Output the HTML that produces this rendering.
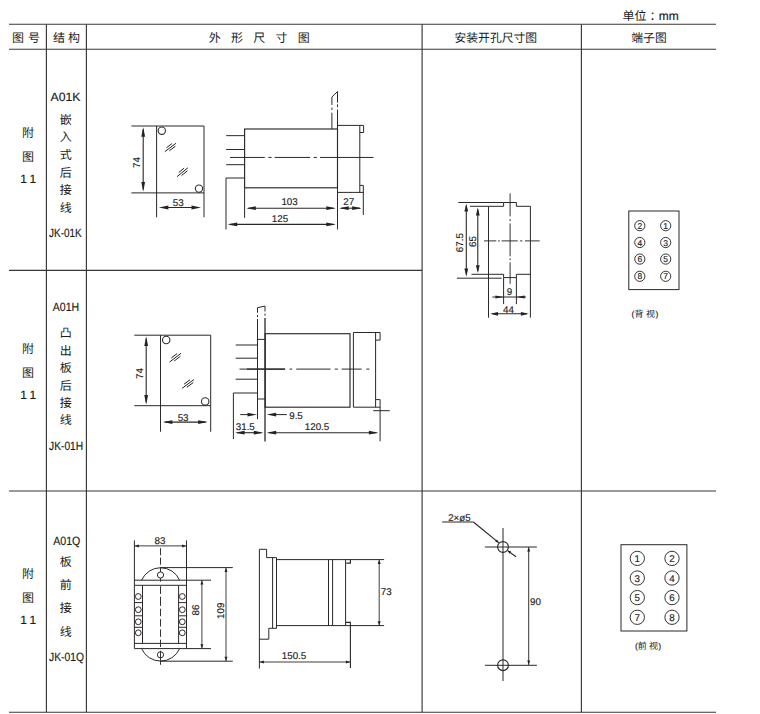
<!DOCTYPE html>
<html lang="zh"><head><meta charset="utf-8"><title>外形及安装尺寸图</title>
<style>
html,body{margin:0;padding:0;background:#fff;}
body{width:760px;height:714px;overflow:hidden;font-family:"Liberation Sans","Noto Sans CJK SC",sans-serif;}
svg{display:block;position:absolute;left:0;top:0;}
svg text{font-family:"Liberation Sans","Noto Sans CJK SC",sans-serif;text-rendering:geometricPrecision;}
</style></head><body>
<svg width="760" height="714" viewBox="0 0 760 714">
<rect x="0" y="0" width="760" height="714" fill="#fff"/>
<line x1="9" y1="24.2" x2="716" y2="24.2" stroke="#3a3635" stroke-width="1.15" />
<line x1="9" y1="49.2" x2="716" y2="49.2" stroke="#3a3635" stroke-width="1.15" />
<line x1="9" y1="270.3" x2="422.1" y2="270.3" stroke="#3a3635" stroke-width="1.15" />
<line x1="9" y1="491" x2="716" y2="491" stroke="#3a3635" stroke-width="1.15" />
<line x1="9" y1="712.2" x2="716" y2="712.2" stroke="#3a3635" stroke-width="1.15" />
<line x1="46.4" y1="24.2" x2="46.4" y2="712.2" stroke="#3a3635" stroke-width="1.15" />
<line x1="86.4" y1="24.2" x2="86.4" y2="712.2" stroke="#3a3635" stroke-width="1.15" />
<line x1="422.1" y1="24.2" x2="422.1" y2="712.2" stroke="#3a3635" stroke-width="1.15" />
<line x1="581.4" y1="24.2" x2="581.4" y2="712.2" stroke="#3a3635" stroke-width="1.15" />
<text x="18.1" y="42.26" font-size="12" text-anchor="middle" fill="#1c1c1c">图</text>
<text x="33.9" y="42.26" font-size="12" text-anchor="middle" fill="#1c1c1c">号</text>
<text x="58.9" y="42.26" font-size="12" text-anchor="middle" fill="#1c1c1c">结</text>
<text x="73.9" y="42.26" font-size="12" text-anchor="middle" fill="#1c1c1c">构</text>
<text x="214.7" y="42.26" font-size="12" text-anchor="middle" fill="#1c1c1c">外</text>
<text x="236.95" y="42.26" font-size="12" text-anchor="middle" fill="#1c1c1c">形</text>
<text x="259.2" y="42.26" font-size="12" text-anchor="middle" fill="#1c1c1c">尺</text>
<text x="281.45" y="42.26" font-size="12" text-anchor="middle" fill="#1c1c1c">寸</text>
<text x="303.7" y="42.26" font-size="12" text-anchor="middle" fill="#1c1c1c">图</text>
<text x="460.4" y="42.184" font-size="11.8" text-anchor="middle" fill="#1c1c1c">安</text>
<text x="472.2" y="42.184" font-size="11.8" text-anchor="middle" fill="#1c1c1c">装</text>
<text x="484" y="42.184" font-size="11.8" text-anchor="middle" fill="#1c1c1c">开</text>
<text x="495.8" y="42.184" font-size="11.8" text-anchor="middle" fill="#1c1c1c">孔</text>
<text x="507.6" y="42.184" font-size="11.8" text-anchor="middle" fill="#1c1c1c">尺</text>
<text x="519.4" y="42.184" font-size="11.8" text-anchor="middle" fill="#1c1c1c">寸</text>
<text x="531.2" y="42.184" font-size="11.8" text-anchor="middle" fill="#1c1c1c">图</text>
<text x="637.2" y="41.584" font-size="11.8" text-anchor="middle" fill="#1c1c1c">端</text>
<text x="649" y="41.584" font-size="11.8" text-anchor="middle" fill="#1c1c1c">子</text>
<text x="660.8" y="41.584" font-size="11.8" text-anchor="middle" fill="#1c1c1c">图</text>
<text x="628.55" y="20.36" font-size="12" text-anchor="middle" fill="#1c1c1c">单</text>
<text x="640.55" y="20.36" font-size="12" text-anchor="middle" fill="#1c1c1c">位</text>
<text x="649.55" y="20.36" font-size="12" text-anchor="start" fill="#1c1c1c">：</text>
<text x="658.8" y="20" font-size="12" text-anchor="start" fill="#1c1c1c" stroke="#1c1c1c" stroke-width="0.18" >mm</text>
<text x="28.1" y="136.71" font-size="12" text-anchor="middle" fill="#1c1c1c">附</text>
<text x="28.1" y="160.86" font-size="12" text-anchor="middle" fill="#1c1c1c">图</text>
<text x="29.85" y="182.65" font-size="12" text-anchor="middle" fill="#1c1c1c" stroke="#1c1c1c" stroke-width="0.18" letter-spacing="3.3" >11</text>
<text x="28.1" y="352.56" font-size="12" text-anchor="middle" fill="#1c1c1c">附</text>
<text x="28.1" y="376.76" font-size="12" text-anchor="middle" fill="#1c1c1c">图</text>
<text x="29.85" y="398.85" font-size="12" text-anchor="middle" fill="#1c1c1c" stroke="#1c1c1c" stroke-width="0.18" letter-spacing="3.3" >11</text>
<text x="28.1" y="578.26" font-size="12" text-anchor="middle" fill="#1c1c1c">附</text>
<text x="28.1" y="601.56" font-size="12" text-anchor="middle" fill="#1c1c1c">图</text>
<text x="29.85" y="624.05" font-size="12" text-anchor="middle" fill="#1c1c1c" stroke="#1c1c1c" stroke-width="0.18" letter-spacing="3.3" >11</text>
<text x="65.5" y="100.9" font-size="12" text-anchor="middle" fill="#1c1c1c" stroke="#1c1c1c" stroke-width="0.18" textLength="30" lengthAdjust="spacingAndGlyphs" >A01K</text>
<text x="65.7" y="123.86" font-size="12" text-anchor="middle" fill="#1c1c1c">嵌</text>
<text x="65.7" y="141.46" font-size="12" text-anchor="middle" fill="#1c1c1c">入</text>
<text x="65.7" y="159.06" font-size="12" text-anchor="middle" fill="#1c1c1c">式</text>
<text x="65.7" y="176.66" font-size="12" text-anchor="middle" fill="#1c1c1c">后</text>
<text x="65.7" y="194.26" font-size="12" text-anchor="middle" fill="#1c1c1c">接</text>
<text x="65.7" y="211.86" font-size="12" text-anchor="middle" fill="#1c1c1c">线</text>
<text x="65.4" y="236.7" font-size="12" text-anchor="middle" fill="#1c1c1c" stroke="#1c1c1c" stroke-width="0.18" textLength="32.8" lengthAdjust="spacingAndGlyphs" >JK-01K</text>
<text x="66" y="310.8" font-size="12" text-anchor="middle" fill="#1c1c1c" stroke="#1c1c1c" stroke-width="0.18" textLength="26.3" lengthAdjust="spacingAndGlyphs" >A01H</text>
<text x="65.7" y="337.16" font-size="12" text-anchor="middle" fill="#1c1c1c">凸</text>
<text x="65.7" y="354.61" font-size="12" text-anchor="middle" fill="#1c1c1c">出</text>
<text x="65.7" y="372.06" font-size="12" text-anchor="middle" fill="#1c1c1c">板</text>
<text x="65.7" y="389.51" font-size="12" text-anchor="middle" fill="#1c1c1c">后</text>
<text x="65.7" y="406.96" font-size="12" text-anchor="middle" fill="#1c1c1c">接</text>
<text x="65.7" y="424.41" font-size="12" text-anchor="middle" fill="#1c1c1c">线</text>
<text x="66.1" y="450" font-size="12" text-anchor="middle" fill="#1c1c1c" stroke="#1c1c1c" stroke-width="0.18" textLength="34" lengthAdjust="spacingAndGlyphs" >JK-01H</text>
<text x="66.8" y="544.5" font-size="12" text-anchor="middle" fill="#1c1c1c" stroke="#1c1c1c" stroke-width="0.18" textLength="27.2" lengthAdjust="spacingAndGlyphs" >A01Q</text>
<text x="65.7" y="565.56" font-size="12" text-anchor="middle" fill="#1c1c1c">板</text>
<text x="65.7" y="588.91" font-size="12" text-anchor="middle" fill="#1c1c1c">前</text>
<text x="65.7" y="612.26" font-size="12" text-anchor="middle" fill="#1c1c1c">接</text>
<text x="65.7" y="635.61" font-size="12" text-anchor="middle" fill="#1c1c1c">线</text>
<text x="66.5" y="660.9" font-size="12" text-anchor="middle" fill="#1c1c1c" stroke="#1c1c1c" stroke-width="0.18" textLength="35" lengthAdjust="spacingAndGlyphs" >JK-01Q</text>
<line x1="131.4" y1="126" x2="204" y2="126" stroke="#2b2827" stroke-width="1" />
<line x1="131.4" y1="192.9" x2="204" y2="192.9" stroke="#2b2827" stroke-width="1" />
<line x1="156.6" y1="126" x2="156.6" y2="217.3" stroke="#2b2827" stroke-width="1" />
<line x1="204" y1="126" x2="204" y2="217.3" stroke="#2b2827" stroke-width="1" />
<circle cx="161.8" cy="130.7" r="3.65" fill="none" stroke="#2e2e2e" stroke-width="1.1"/>
<circle cx="199" cy="188.6" r="3.65" fill="none" stroke="#2e2e2e" stroke-width="1.1"/>
<line x1="164.8" y1="151.7" x2="175.9" y2="143.3" stroke="#222" stroke-width="1" />
<line x1="166.537" y1="147.689" x2="172.087" y2="143.489" stroke="#222" stroke-width="1" />
<line x1="169.361" y1="150.757" x2="175.35" y2="146.224" stroke="#222" stroke-width="1" />
<line x1="177.06" y1="176.67" x2="187.9" y2="167.8" stroke="#222" stroke-width="1" />
<line x1="178.662" y1="172.581" x2="184.082" y2="168.146" stroke="#222" stroke-width="1" />
<line x1="181.602" y1="175.538" x2="187.451" y2="170.752" stroke="#222" stroke-width="1" />
<line x1="143.2" y1="129.3" x2="143.2" y2="189.6" stroke="#2b2827" stroke-width="1.1" />
<polygon points="143.20,127.30 145.10,136.80 141.30,136.80" fill="#222"/>
<polygon points="143.20,191.60 141.30,182.10 145.10,182.10" fill="#222"/>
<text x="140.3" y="162.6" font-size="9.8" text-anchor="middle" fill="#1c1c1c" stroke="#1c1c1c" stroke-width="0.15" transform="rotate(-90 140.3 162.6)" >74</text>
<line x1="160.9" y1="207.5" x2="199" y2="207.5" stroke="#2b2827" stroke-width="1.1" />
<polygon points="158.90,207.50 168.40,205.60 168.40,209.40" fill="#222"/>
<polygon points="201.00,207.50 191.50,209.40 191.50,205.60" fill="#222"/>
<text x="178.3" y="205.9" font-size="9.8" text-anchor="middle" fill="#1c1c1c" stroke="#1c1c1c" stroke-width="0.15" >53</text>
<rect x="244.6" y="129" width="92.9" height="58.8" fill="none" stroke="#2b2827" stroke-width="1.15"/>
<line x1="244.6" y1="187.8" x2="244.6" y2="217.8" stroke="#2b2827" stroke-width="1" />
<line x1="226.2" y1="135.65" x2="244.6" y2="135.65" stroke="#2b2827" stroke-width="1" />
<line x1="226.2" y1="149.5" x2="244.6" y2="149.5" stroke="#2b2827" stroke-width="1" />
<line x1="226.2" y1="164.7" x2="244.6" y2="164.7" stroke="#2b2827" stroke-width="1" />
<polyline points="244.6,178 226,178 226,229.5" fill="none" stroke="#2b2827" stroke-width="1" />
<line x1="230.1" y1="157.45" x2="373.5" y2="157.45" stroke="#2b2827" stroke-width="1" stroke-dasharray="34.7 3.6 3.2 3.1 35.4 3.6 3.1 3.2 60"/>
<line x1="337.5" y1="91.5" x2="337.5" y2="102.6" stroke="#2b2827" stroke-width="1" />
<line x1="337.5" y1="104.4" x2="337.5" y2="107.2" stroke="#2b2827" stroke-width="1" />
<line x1="337.5" y1="109.5" x2="337.5" y2="229.5" stroke="#2b2827" stroke-width="1" />
<line x1="331.9" y1="97" x2="337.5" y2="91.5" stroke="#2b2827" stroke-width="1" />
<line x1="331.9" y1="97" x2="331.9" y2="105" stroke="#2b2827" stroke-width="1" />
<line x1="331.9" y1="107.6" x2="331.9" y2="109.9" stroke="#2b2827" stroke-width="1" />
<line x1="331.9" y1="112.7" x2="331.9" y2="129" stroke="#2b2827" stroke-width="1" />
<polyline points="337.5,125.4 363.6,125.4 363.6,132.5 359.8,132.5" fill="none" stroke="#2b2827" stroke-width="1" />
<line x1="359.8" y1="125.4" x2="359.8" y2="192.4" stroke="#2b2827" stroke-width="1" />
<line x1="337.5" y1="192.4" x2="363.3" y2="192.4" stroke="#2b2827" stroke-width="1" />
<polyline points="359.8,185.4 363.3,185.4 363.3,215" fill="none" stroke="#2b2827" stroke-width="1" />
<line x1="248.3" y1="208.2" x2="333.8" y2="208.2" stroke="#2b2827" stroke-width="1.1" />
<polygon points="246.30,208.20 255.80,206.30 255.80,210.10" fill="#222"/>
<polygon points="335.80,208.20 326.30,210.10 326.30,206.30" fill="#222"/>
<text x="289.6" y="205" font-size="9.8" text-anchor="middle" fill="#1c1c1c" stroke="#1c1c1c" stroke-width="0.15" >103</text>
<line x1="341" y1="208.2" x2="360" y2="208.2" stroke="#2b2827" stroke-width="1.1" />
<polygon points="339.20,208.20 348.70,206.30 348.70,210.10" fill="#222"/>
<polygon points="361.70,208.20 352.20,210.10 352.20,206.30" fill="#222"/>
<text x="348.8" y="205" font-size="9.8" text-anchor="middle" fill="#1c1c1c" stroke="#1c1c1c" stroke-width="0.15" >27</text>
<line x1="229.7" y1="224.4" x2="333.8" y2="224.4" stroke="#2b2827" stroke-width="1.1" />
<polygon points="227.70,224.40 237.20,222.50 237.20,226.30" fill="#222"/>
<polygon points="335.80,224.40 326.30,226.30 326.30,222.50" fill="#222"/>
<text x="280" y="222.2" font-size="9.8" text-anchor="middle" fill="#1c1c1c" stroke="#1c1c1c" stroke-width="0.15" >125</text>
<polyline points="488.5,317.7 488.5,206.3 503.6,206.3 503.6,202.5 516.4,202.5 516.4,206.3 530.4,206.3 530.4,317.7" fill="none" stroke="#2b2827" stroke-width="1" />
<polyline points="488.5,274.3 503.6,274.3 503.6,277.6 516.4,277.6 516.4,274.3 530.4,274.3" fill="none" stroke="#2b2827" stroke-width="1" />
<line x1="503.6" y1="277.6" x2="503.6" y2="304.1" stroke="#2b2827" stroke-width="1" />
<line x1="516.4" y1="277.6" x2="516.4" y2="304.1" stroke="#2b2827" stroke-width="1" />
<line x1="458.3" y1="202.5" x2="503.6" y2="202.5" stroke="#2b2827" stroke-width="1" />
<line x1="470" y1="206.3" x2="488.5" y2="206.3" stroke="#2b2827" stroke-width="1" />
<line x1="471.5" y1="274.3" x2="488.5" y2="274.3" stroke="#2b2827" stroke-width="1" />
<line x1="456.8" y1="278.2" x2="501.6" y2="278.2" stroke="#2b2827" stroke-width="1" />
<line x1="510.1" y1="193.4" x2="510.1" y2="283.8" stroke="#2b2827" stroke-width="0.95" stroke-dasharray="22.9 2.8 2 2.3 32.9 2 1.8 2.2 40"/>
<line x1="484" y1="240.9" x2="539.7" y2="240.9" stroke="#2b2827" stroke-width="0.95" stroke-dasharray="12.3 1.7 1.7 1.9 16.1 2.4 2.2 2.6 40"/>
<line x1="466.3" y1="205.8" x2="466.3" y2="274.4" stroke="#2b2827" stroke-width="1.1" />
<polygon points="466.30,203.80 468.20,211.60 464.40,211.60" fill="#222"/>
<polygon points="466.30,276.40 464.40,268.60 468.20,268.60" fill="#222"/>
<text x="462.8" y="242.6" font-size="9.8" text-anchor="middle" fill="#1c1c1c" stroke="#1c1c1c" stroke-width="0.15" transform="rotate(-90 462.8 242.6)" >67.5</text>
<line x1="477.8" y1="209.6" x2="477.8" y2="271" stroke="#2b2827" stroke-width="1.1" />
<polygon points="477.80,207.60 479.70,215.40 475.90,215.40" fill="#222"/>
<polygon points="477.80,273.00 475.90,265.20 479.70,265.20" fill="#222"/>
<text x="475.8" y="241.6" font-size="9.8" text-anchor="middle" fill="#1c1c1c" stroke="#1c1c1c" stroke-width="0.15" transform="rotate(-90 475.8 241.6)" >65</text>
<line x1="492.3" y1="297" x2="526" y2="297" stroke="#2b2827" stroke-width="1" />
<polygon points="503.40,297.00 495.40,298.60 495.40,295.40" fill="#222"/>
<polygon points="516.60,297.00 524.60,295.40 524.60,298.60" fill="#222"/>
<text x="509.4" y="294.9" font-size="9.8" text-anchor="middle" fill="#1c1c1c" stroke="#1c1c1c" stroke-width="0.15" >9</text>
<line x1="492.2" y1="313.8" x2="526.7" y2="313.8" stroke="#2b2827" stroke-width="1.1" />
<polygon points="490.20,313.80 498.00,311.90 498.00,315.70" fill="#222"/>
<polygon points="528.70,313.80 520.90,315.70 520.90,311.90" fill="#222"/>
<text x="508.4" y="312.9" font-size="9.8" text-anchor="middle" fill="#1c1c1c" stroke="#1c1c1c" stroke-width="0.15" >44</text>
<rect x="628.8" y="211" width="50.2" height="78.6" fill="none" stroke="#2b2827" stroke-width="1"/>
<circle cx="639.8" cy="225.7" r="5.1" fill="none" stroke="#2a2a2a" stroke-width="0.95"/>
<text x="639.8" y="228.76" font-size="8.5" text-anchor="middle" fill="#1c1c1c" stroke="#1c1c1c" stroke-width="0.15" >2</text>
<circle cx="665.7" cy="225.7" r="5.1" fill="none" stroke="#2a2a2a" stroke-width="0.95"/>
<text x="665.7" y="228.76" font-size="8.5" text-anchor="middle" fill="#1c1c1c" stroke="#1c1c1c" stroke-width="0.15" >1</text>
<circle cx="639.8" cy="242.5" r="5.1" fill="none" stroke="#2a2a2a" stroke-width="0.95"/>
<text x="639.8" y="245.56" font-size="8.5" text-anchor="middle" fill="#1c1c1c" stroke="#1c1c1c" stroke-width="0.15" >4</text>
<circle cx="665.7" cy="242.5" r="5.1" fill="none" stroke="#2a2a2a" stroke-width="0.95"/>
<text x="665.7" y="245.56" font-size="8.5" text-anchor="middle" fill="#1c1c1c" stroke="#1c1c1c" stroke-width="0.15" >3</text>
<circle cx="639.8" cy="259.1" r="5.1" fill="none" stroke="#2a2a2a" stroke-width="0.95"/>
<text x="639.8" y="262.16" font-size="8.5" text-anchor="middle" fill="#1c1c1c" stroke="#1c1c1c" stroke-width="0.15" >6</text>
<circle cx="665.7" cy="259.1" r="5.1" fill="none" stroke="#2a2a2a" stroke-width="0.95"/>
<text x="665.7" y="262.16" font-size="8.5" text-anchor="middle" fill="#1c1c1c" stroke="#1c1c1c" stroke-width="0.15" >5</text>
<circle cx="639.8" cy="276.3" r="5.1" fill="none" stroke="#2a2a2a" stroke-width="0.95"/>
<text x="639.8" y="279.36" font-size="8.5" text-anchor="middle" fill="#1c1c1c" stroke="#1c1c1c" stroke-width="0.15" >8</text>
<circle cx="665.7" cy="276.3" r="5.1" fill="none" stroke="#2a2a2a" stroke-width="0.95"/>
<text x="665.7" y="279.36" font-size="8.5" text-anchor="middle" fill="#1c1c1c" stroke="#1c1c1c" stroke-width="0.15" >7</text>
<text x="631.5" y="317.2" font-size="8.6" text-anchor="start" fill="#1c1c1c" stroke="#1c1c1c" stroke-width="0.15" >(</text>
<text x="639" y="317.42" font-size="9" text-anchor="middle" fill="#1c1c1c">背</text>
<text x="650.5" y="317.42" font-size="9" text-anchor="middle" fill="#1c1c1c">视</text>
<text x="655.6" y="317.2" font-size="8.6" text-anchor="start" fill="#1c1c1c" stroke="#1c1c1c" stroke-width="0.15" >)</text>
<line x1="134.3" y1="335.2" x2="210.7" y2="335.2" stroke="#2b2827" stroke-width="1" />
<line x1="134.3" y1="405.7" x2="210.7" y2="405.7" stroke="#2b2827" stroke-width="1" />
<line x1="160.5" y1="335.2" x2="160.5" y2="431.7" stroke="#2b2827" stroke-width="1" />
<line x1="210.7" y1="335.2" x2="210.7" y2="431.7" stroke="#2b2827" stroke-width="1" />
<circle cx="166.2" cy="340" r="3.7" fill="none" stroke="#2e2e2e" stroke-width="1.1"/>
<circle cx="205.2" cy="401.4" r="3.7" fill="none" stroke="#2e2e2e" stroke-width="1.1"/>
<line x1="169.5" y1="362.1" x2="181" y2="353.3" stroke="#222" stroke-width="1" />
<line x1="171.337" y1="357.987" x2="177.087" y2="353.587" stroke="#222" stroke-width="1" />
<line x1="174.19" y1="361.029" x2="180.395" y2="356.281" stroke="#222" stroke-width="1" />
<line x1="182.1" y1="388.3" x2="194" y2="379.5" stroke="#222" stroke-width="1" />
<line x1="184.075" y1="384.166" x2="190.025" y2="379.766" stroke="#222" stroke-width="1" />
<line x1="186.885" y1="387.249" x2="193.306" y2="382.501" stroke="#222" stroke-width="1" />
<line x1="146.2" y1="338.5" x2="146.2" y2="402.4" stroke="#2b2827" stroke-width="1.1" />
<polygon points="146.20,336.50 148.10,346.00 144.30,346.00" fill="#222"/>
<polygon points="146.20,404.40 144.30,394.90 148.10,394.90" fill="#222"/>
<text x="143.4" y="373.6" font-size="9.8" text-anchor="middle" fill="#1c1c1c" stroke="#1c1c1c" stroke-width="0.15" transform="rotate(-90 143.4 373.6)" >74</text>
<line x1="164.9" y1="422.1" x2="205.7" y2="422.1" stroke="#2b2827" stroke-width="1.1" />
<polygon points="162.90,422.10 172.40,420.20 172.40,424.00" fill="#222"/>
<polygon points="207.70,422.10 198.20,424.00 198.20,420.20" fill="#222"/>
<text x="183.1" y="420.5" font-size="9.8" text-anchor="middle" fill="#1c1c1c" stroke="#1c1c1c" stroke-width="0.15" >53</text>
<rect x="265.2" y="333.7" width="84.8" height="73.5" fill="none" stroke="#2b2827" stroke-width="1.15"/>
<polyline points="353.4,407.2 353.4,332.5 380.1,332.5 380.1,340.1 375.6,340.1" fill="none" stroke="#2b2827" stroke-width="1" />
<line x1="375.6" y1="332.5" x2="375.6" y2="407.2" stroke="#2b2827" stroke-width="1" />
<line x1="353.4" y1="407.2" x2="380.1" y2="407.2" stroke="#2b2827" stroke-width="1" />
<polyline points="375.6,399.6 380.1,399.6 380.1,441.3" fill="none" stroke="#2b2827" stroke-width="1" />
<line x1="373.2" y1="410.7" x2="389.8" y2="410.7" stroke="#2b2827" stroke-width="1" />
<line x1="257.5" y1="307.7" x2="265" y2="306.1" stroke="#2b2827" stroke-width="1" />
<line x1="257.5" y1="307.7" x2="257.5" y2="312.6" stroke="#2b2827" stroke-width="1" />
<line x1="257.5" y1="315.1" x2="257.5" y2="317.1" stroke="#2b2827" stroke-width="1" />
<line x1="257.5" y1="319" x2="257.5" y2="419.2" stroke="#2b2827" stroke-width="1" />
<line x1="265" y1="306.1" x2="265" y2="311.5" stroke="#2b2827" stroke-width="1" />
<line x1="265" y1="313.6" x2="265" y2="315.6" stroke="#2b2827" stroke-width="1" />
<line x1="265" y1="318" x2="265" y2="441.6" stroke="#2b2827" stroke-width="1.3" />
<line x1="257.5" y1="339.4" x2="265" y2="339.4" stroke="#2b2827" stroke-width="1" />
<line x1="257.5" y1="399" x2="265" y2="399" stroke="#2b2827" stroke-width="1" />
<line x1="235.7" y1="345" x2="257.5" y2="345" stroke="#2b2827" stroke-width="1" />
<line x1="235.7" y1="358.2" x2="257.5" y2="358.2" stroke="#2b2827" stroke-width="1" />
<line x1="235.7" y1="379.2" x2="257.5" y2="379.2" stroke="#2b2827" stroke-width="1" />
<polyline points="257.5,393 233.4,393 233.4,439" fill="none" stroke="#2b2827" stroke-width="1" />
<line x1="246.9" y1="369.1" x2="285" y2="369.1" stroke="#2b2827" stroke-width="1.25" />
<line x1="239.5" y1="369.1" x2="369.4" y2="369.1" stroke="#2b2827" stroke-width="1" stroke-dasharray="45.7 4.4 2.5 4.2 34.3 4.2 3 3.8 20 4.8 3 40"/>
<line x1="240.2" y1="414.6" x2="250" y2="414.6" stroke="#2b2827" stroke-width="1" />
<polygon points="257.00,414.60 247.50,416.50 247.50,412.70" fill="#222"/>
<line x1="275" y1="414.6" x2="286.8" y2="414.6" stroke="#2b2827" stroke-width="1" />
<polygon points="266.60,414.60 276.10,412.70 276.10,416.50" fill="#222"/>
<text x="296" y="419" font-size="9.8" text-anchor="middle" fill="#1c1c1c" stroke="#1c1c1c" stroke-width="0.15" >9.5</text>
<line x1="237.1" y1="432.7" x2="261.3" y2="432.7" stroke="#2b2827" stroke-width="1.1" />
<polygon points="235.10,432.70 244.60,430.80 244.60,434.60" fill="#222"/>
<polygon points="263.30,432.70 253.80,434.60 253.80,430.80" fill="#222"/>
<text x="245.3" y="429.8" font-size="9.8" text-anchor="middle" fill="#1c1c1c" stroke="#1c1c1c" stroke-width="0.15" >31.5</text>
<line x1="268.7" y1="432.7" x2="376.4" y2="432.7" stroke="#2b2827" stroke-width="1.1" />
<polygon points="266.70,432.70 276.20,430.80 276.20,434.60" fill="#222"/>
<polygon points="378.40,432.70 368.90,434.60 368.90,430.80" fill="#222"/>
<text x="317" y="429.8" font-size="9.8" text-anchor="middle" fill="#1c1c1c" stroke="#1c1c1c" stroke-width="0.15" >120.5</text>
<line x1="134.4" y1="540.4" x2="134.4" y2="648.6" stroke="#2b2827" stroke-width="1" />
<line x1="186.5" y1="540.4" x2="186.5" y2="648.6" stroke="#2b2827" stroke-width="1" />
<line x1="134.4" y1="545.9" x2="186.5" y2="545.9" stroke="#2b2827" stroke-width="0.9" />
<polygon points="134.70,545.90 138.90,544.40 138.90,547.40" fill="#222"/>
<polygon points="186.20,545.90 182.00,547.40 182.00,544.40" fill="#222"/>
<text x="160" y="544.2" font-size="9.8" text-anchor="middle" fill="#1c1c1c" stroke="#1c1c1c" stroke-width="0.15" >83</text>
<line x1="134.4" y1="580.2" x2="211" y2="580.2" stroke="#2b2827" stroke-width="1" />
<line x1="134.4" y1="585.3" x2="186.5" y2="585.3" stroke="#2b2827" stroke-width="1" />
<line x1="134.4" y1="643.4" x2="186.5" y2="643.4" stroke="#2b2827" stroke-width="1" />
<line x1="134.4" y1="648.6" x2="211" y2="648.6" stroke="#2b2827" stroke-width="1" />
<line x1="142.5" y1="585.3" x2="142.5" y2="643.4" stroke="#2b2827" stroke-width="1" />
<line x1="178.6" y1="585.3" x2="178.6" y2="643.4" stroke="#2b2827" stroke-width="1" />
<path d="M141.6 580.2 A20.7 20.7 0 0 1 179.6 580.2" fill="none" stroke="#2b2827" stroke-width="1"/>
<path d="M141.6 648.6 A20.7 20.7 0 0 0 179.6 648.6" fill="none" stroke="#2b2827" stroke-width="1"/>
<line x1="160.5" y1="567.6" x2="232.8" y2="567.6" stroke="#2b2827" stroke-width="1" />
<line x1="160.5" y1="661.2" x2="232.8" y2="661.2" stroke="#2b2827" stroke-width="1" />
<line x1="160.5" y1="548.2" x2="160.5" y2="555.3" stroke="#2b2827" stroke-width="0.95" />
<line x1="160.5" y1="557.6" x2="160.5" y2="564.7" stroke="#2b2827" stroke-width="0.95" />
<line x1="160.5" y1="567.5" x2="160.5" y2="572" stroke="#2b2827" stroke-width="0.95" />
<line x1="160.5" y1="578" x2="160.5" y2="581.6" stroke="#2b2827" stroke-width="0.95" />
<line x1="160.5" y1="586.2" x2="160.5" y2="594" stroke="#2b2827" stroke-width="0.95" />
<line x1="160.5" y1="596.7" x2="160.5" y2="605.9" stroke="#2b2827" stroke-width="0.95" />
<line x1="160.5" y1="608.8" x2="160.5" y2="616.2" stroke="#2b2827" stroke-width="0.95" />
<line x1="160.5" y1="619.1" x2="160.5" y2="626.5" stroke="#2b2827" stroke-width="0.95" />
<line x1="160.5" y1="629.4" x2="160.5" y2="636.8" stroke="#2b2827" stroke-width="0.95" />
<line x1="160.5" y1="639.7" x2="160.5" y2="647" stroke="#2b2827" stroke-width="0.95" />
<line x1="160.5" y1="650.8" x2="160.5" y2="664.8" stroke="#2b2827" stroke-width="0.95" />
<circle cx="160.5" cy="575" r="3.1" fill="none" stroke="#2b2827" stroke-width="1"/>
<circle cx="160.5" cy="654.8" r="3.1" fill="none" stroke="#2b2827" stroke-width="1"/>
<circle cx="138.3" cy="596.5" r="2.9" fill="none" stroke="#2b2827" stroke-width="1"/>
<circle cx="182.3" cy="596.5" r="2.9" fill="none" stroke="#2b2827" stroke-width="1"/>
<circle cx="138.3" cy="609.7" r="2.9" fill="none" stroke="#2b2827" stroke-width="1"/>
<circle cx="182.3" cy="609.7" r="2.9" fill="none" stroke="#2b2827" stroke-width="1"/>
<circle cx="138.3" cy="621.8" r="2.9" fill="none" stroke="#2b2827" stroke-width="1"/>
<circle cx="182.3" cy="621.8" r="2.9" fill="none" stroke="#2b2827" stroke-width="1"/>
<circle cx="138.3" cy="632.8" r="2.9" fill="none" stroke="#2b2827" stroke-width="1"/>
<circle cx="182.3" cy="632.8" r="2.9" fill="none" stroke="#2b2827" stroke-width="1"/>
<line x1="134.4" y1="602.6" x2="142.5" y2="602.6" stroke="#2b2827" stroke-width="1" />
<line x1="178.6" y1="602.6" x2="186.5" y2="602.6" stroke="#2b2827" stroke-width="1" />
<line x1="134.4" y1="615.8" x2="142.5" y2="615.8" stroke="#2b2827" stroke-width="1" />
<line x1="178.6" y1="615.8" x2="186.5" y2="615.8" stroke="#2b2827" stroke-width="1" />
<line x1="134.4" y1="627.3" x2="142.5" y2="627.3" stroke="#2b2827" stroke-width="1" />
<line x1="178.6" y1="627.3" x2="186.5" y2="627.3" stroke="#2b2827" stroke-width="1" />
<line x1="201.9" y1="580.2" x2="201.9" y2="648.6" stroke="#2a2a2a" stroke-width="0.9" />
<polygon points="201.90,580.40 203.40,584.60 200.40,584.60" fill="#222"/>
<polygon points="201.90,648.40 200.40,644.20 203.40,644.20" fill="#222"/>
<text x="199.4" y="610" font-size="9.8" text-anchor="middle" fill="#1c1c1c" stroke="#1c1c1c" stroke-width="0.15" transform="rotate(-90 199.4 610)" >86</text>
<line x1="226" y1="567.6" x2="226" y2="661.2" stroke="#2a2a2a" stroke-width="0.9" />
<polygon points="226.00,567.80 227.50,572.00 224.50,572.00" fill="#222"/>
<polygon points="226.00,661.00 224.50,656.80 227.50,656.80" fill="#222"/>
<text x="224" y="610.7" font-size="9.8" text-anchor="middle" fill="#1c1c1c" stroke="#1c1c1c" stroke-width="0.15" transform="rotate(-90 224 610.7)" >109</text>
<polyline points="259.4,668.6 259.4,549.3 266.6,549.3 266.6,557.6 276.5,557.6 276.5,628.3 268.8,628.3 268.8,639.2 259.4,639.2" fill="none" stroke="#2b2827" stroke-width="1" />
<line x1="272.6" y1="557.6" x2="272.6" y2="628.3" stroke="#2b2827" stroke-width="1" />
<line x1="276.5" y1="559.6" x2="384.1" y2="559.6" stroke="#2b2827" stroke-width="1" />
<line x1="276.5" y1="625.6" x2="384.1" y2="625.6" stroke="#2b2827" stroke-width="1" />
<line x1="328.5" y1="559.6" x2="328.5" y2="625.6" stroke="#2b2827" stroke-width="1" />
<line x1="332.6" y1="559.6" x2="332.6" y2="625.6" stroke="#2b2827" stroke-width="1" />
<line x1="345.6" y1="559.6" x2="345.6" y2="625.6" stroke="#2b2827" stroke-width="1" />
<polyline points="350.4,559.6 350.4,563.1 346.3,563.1" fill="none" stroke="#2b2827" stroke-width="1.15" />
<polyline points="345.6,622.4 350.4,622.4 350.4,668" fill="none" stroke="#2b2827" stroke-width="1.1" />
<line x1="379.2" y1="559.6" x2="379.2" y2="625.6" stroke="#2a2a2a" stroke-width="0.9" />
<polygon points="379.20,559.80 380.70,564.00 377.70,564.00" fill="#222"/>
<polygon points="379.20,625.40 377.70,621.20 380.70,621.20" fill="#222"/>
<text x="386.2" y="595.3" font-size="9.8" text-anchor="middle" fill="#1c1c1c" stroke="#1c1c1c" stroke-width="0.15" >73</text>
<line x1="259.4" y1="662" x2="350.4" y2="662" stroke="#2b2827" stroke-width="0.9" />
<polygon points="259.70,662.00 263.90,660.50 263.90,663.50" fill="#222"/>
<polygon points="350.10,662.00 345.90,663.50 345.90,660.50" fill="#222"/>
<text x="294" y="659.2" font-size="9.8" text-anchor="middle" fill="#1c1c1c" stroke="#1c1c1c" stroke-width="0.15" >150.5</text>
<line x1="503" y1="528" x2="503" y2="681" stroke="#2b2827" stroke-width="1" />
<line x1="484.9" y1="547" x2="536.9" y2="547" stroke="#2b2827" stroke-width="1" />
<line x1="484.9" y1="665.3" x2="536.9" y2="665.3" stroke="#2b2827" stroke-width="1" />
<circle cx="503" cy="547" r="5.4" fill="none" stroke="#2a2a2a" stroke-width="1.15"/>
<circle cx="503" cy="665.2" r="5.4" fill="none" stroke="#2a2a2a" stroke-width="1.15"/>
<line x1="528.7" y1="547" x2="528.7" y2="665" stroke="#2a2a2a" stroke-width="0.95" />
<polygon points="528.70,547.20 530.20,551.40 527.20,551.40" fill="#222"/>
<polygon points="528.70,664.80 527.20,660.60 530.20,660.60" fill="#222"/>
<text x="535.5" y="605.1" font-size="9.8" text-anchor="middle" fill="#1c1c1c" stroke="#1c1c1c" stroke-width="0.15" >90</text>
<line x1="442.2" y1="522" x2="473.4" y2="522" stroke="#2b2827" stroke-width="1" />
<line x1="473.4" y1="522" x2="498.6" y2="542.6" stroke="#222" stroke-width="1.1" />
<polygon points="499.20,543.10 495.28,541.57 496.93,539.56" fill="#222"/>
<line x1="516" y1="556.7" x2="508" y2="550.9" stroke="#222" stroke-width="1.1" />
<polygon points="507.20,550.30 511.20,551.60 509.68,553.70" fill="#222"/>
<text x="459.4" y="520.9" font-size="9.8" text-anchor="middle" fill="#1c1c1c" stroke="#1c1c1c" stroke-width="0.15" textLength="22.4" lengthAdjust="spacingAndGlyphs" >2×ø5</text>
<rect x="621" y="544.7" width="65.9" height="86.3" fill="none" stroke="#2b2827" stroke-width="1"/>
<circle cx="637.3" cy="558.4" r="7.15" fill="none" stroke="#2a2a2a" stroke-width="0.95"/>
<text x="637.3" y="562" font-size="9.8" text-anchor="middle" fill="#1c1c1c" stroke="#1c1c1c" stroke-width="0.15" >1</text>
<circle cx="672" cy="558.4" r="7.15" fill="none" stroke="#2a2a2a" stroke-width="0.95"/>
<text x="672" y="562" font-size="9.8" text-anchor="middle" fill="#1c1c1c" stroke="#1c1c1c" stroke-width="0.15" >2</text>
<circle cx="637.3" cy="578" r="7.15" fill="none" stroke="#2a2a2a" stroke-width="0.95"/>
<text x="637.3" y="581.6" font-size="9.8" text-anchor="middle" fill="#1c1c1c" stroke="#1c1c1c" stroke-width="0.15" >3</text>
<circle cx="672" cy="578" r="7.15" fill="none" stroke="#2a2a2a" stroke-width="0.95"/>
<text x="672" y="581.6" font-size="9.8" text-anchor="middle" fill="#1c1c1c" stroke="#1c1c1c" stroke-width="0.15" >4</text>
<circle cx="637.3" cy="597.6" r="7.15" fill="none" stroke="#2a2a2a" stroke-width="0.95"/>
<text x="637.3" y="601.2" font-size="9.8" text-anchor="middle" fill="#1c1c1c" stroke="#1c1c1c" stroke-width="0.15" >5</text>
<circle cx="672" cy="597.6" r="7.15" fill="none" stroke="#2a2a2a" stroke-width="0.95"/>
<text x="672" y="601.2" font-size="9.8" text-anchor="middle" fill="#1c1c1c" stroke="#1c1c1c" stroke-width="0.15" >6</text>
<circle cx="637.3" cy="617.3" r="7.15" fill="none" stroke="#2a2a2a" stroke-width="0.95"/>
<text x="637.3" y="620.9" font-size="9.8" text-anchor="middle" fill="#1c1c1c" stroke="#1c1c1c" stroke-width="0.15" >7</text>
<circle cx="672" cy="617.3" r="7.15" fill="none" stroke="#2a2a2a" stroke-width="0.95"/>
<text x="672" y="620.9" font-size="9.8" text-anchor="middle" fill="#1c1c1c" stroke="#1c1c1c" stroke-width="0.15" >8</text>
<text x="634.9" y="648.8" font-size="8.6" text-anchor="start" fill="#1c1c1c" stroke="#1c1c1c" stroke-width="0.15" >(</text>
<text x="642.3" y="649.02" font-size="9" text-anchor="middle" fill="#1c1c1c">前</text>
<text x="653.6" y="649.02" font-size="9" text-anchor="middle" fill="#1c1c1c">视</text>
<text x="658.3" y="648.8" font-size="8.6" text-anchor="start" fill="#1c1c1c" stroke="#1c1c1c" stroke-width="0.15" >)</text>
</svg>
</body></html>
